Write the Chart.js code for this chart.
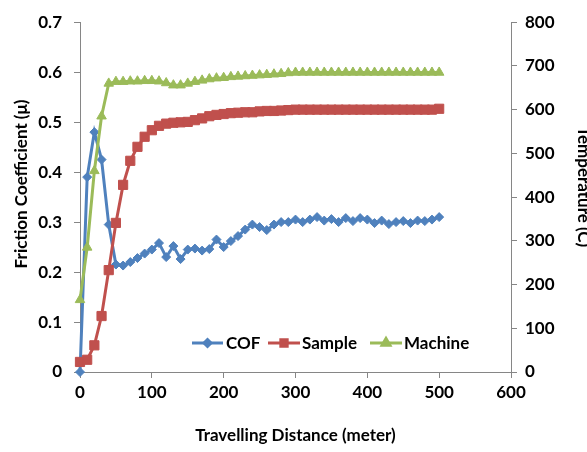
<!DOCTYPE html>
<html>
<head>
<meta charset="utf-8">
<script src="https://cdn.jsdelivr.net/npm/chart.js@4.4.1/dist/chart.umd.min.js"></script>
<style>
  html, body { margin: 0; padding: 0; background: #fff; overflow: hidden; }
  #wrap { width: 598px; height: 452px; position: relative; }
</style>
</head>
<body>
<div id="wrap"><canvas id="c" width="598" height="452"></canvas></div>
<script>
const distances = [0,10,20,30,40,50,60,70,80,90,100,110,120,130,140,150,160,170,180,190,200,
  210,220,230,240,250,260,270,280,290,300,310,320,330,340,350,360,370,380,390,400,
  410,420,430,440,450,460,470,480,490,500];
const cofValues = [0,0.39,0.48,0.425,0.295,0.215,0.213,0.22,0.228,0.237,0.245,0.258,0.23,0.252,0.226,
  0.245,0.247,0.243,0.246,0.265,0.25,0.262,0.272,0.285,0.295,0.29,0.284,0.295,0.3,0.3,0.305,
  0.3,0.305,0.31,0.303,0.306,0.3,0.308,0.302,0.308,0.305,0.298,0.303,0.296,0.3,0.302,0.298,
  0.303,0.302,0.305,0.31];
const sampleTemps = [23,28,61,128,233,341,428,483,515,538,553,563,568,570,571,572,576,580,585,588,590,
  592,593,594,594,596,597,597,598,599,600,600,600,600,600,600,600,600,600,600,600,
  600,600,600,600,600,600,600,600,600,602];
const machineTemps = [165,285,460,585,660,664,664,665,665,666,666,665,661,656,656,660,664,667,670,672,673,
  675,676,677,678,679,680,681,682,684,685,685,685,685,685,685,685,685,685,685,685,
  685,685,685,685,685,685,685,685,685,685];
const xTicks = [0,100,200,300,400,500,600];
const cofTicks = [0,0.1,0.2,0.3,0.4,0.5,0.6,0.7];
const tempTicks = [0,100,200,300,400,500,600,700,800];
const seriesNames = ['COF','Sample','Machine'];
const xTitle = 'Travelling Distance (meter)';
const yTitle = 'Friction Coefficient (\u03bc)';
const y1Title = 'Temperature (C)';

const FONT = 'Lato, "Open Sans", "DejaVu Sans", sans-serif';
const FS = 17;
const toPts = (ys) => distances.map((d, i) => ({x: d, y: ys[i]}));

const legendPlugin = {
  id: 'insideLegend',
  afterDatasetsDraw(chart) {
    const ctx = chart.ctx;
    const items = [
      {ds: 0, x0: 192, x1: 223, tx: 226, r: 3.5},
      {ds: 1, x0: 268, x1: 300, tx: 302, r: 4.5},
      {ds: 2, x0: 370, x1: 402, tx: 404, r: 4.5}
    ];
    const y = 343;
    ctx.save();
    items.forEach(it => {
      const d = chart.data.datasets[it.ds];
      ctx.strokeStyle = d.borderColor;
      ctx.lineWidth = 3;
      ctx.beginPath();
      ctx.moveTo(it.x0, y);
      ctx.lineTo(it.x1, y);
      ctx.stroke();
      ctx.fillStyle = d.pointBackgroundColor;
      ctx.strokeStyle = d.pointBorderColor;
      Chart.helpers.drawPoint(ctx, {pointStyle: d.pointStyle, radius: it.r, rotation: 0, borderWidth: 1}, (it.x0 + it.x1) / 2, y);
      ctx.fillStyle = '#000';
      ctx.font = 'bold ' + FS + 'px ' + FONT;
      ctx.textAlign = 'left';
      ctx.textBaseline = 'middle';
      ctx.fillText(d.label, it.tx, y + 1);
    });
    ctx.restore();
  }
};

const vTitlePlugin = {
  id: 'vTitles',
  afterDraw(chart) {
    const ctx = chart.ctx;
    ctx.save();
    ctx.fillStyle = '#000';
    ctx.font = 'bold ' + FS + 'px ' + FONT;
    ctx.textAlign = 'center';
    ctx.textBaseline = 'middle';
    ctx.translate(22, 184);
    ctx.rotate(-Math.PI / 2);
    ctx.fillText(yTitle, 0, 0);
    ctx.restore();
    ctx.save();
    ctx.fillStyle = '#000';
    ctx.font = 'bold ' + FS + 'px ' + FONT;
    ctx.textAlign = 'center';
    ctx.textBaseline = 'middle';
    ctx.translate(583, 187);
    ctx.rotate(Math.PI / 2);
    ctx.fillText(y1Title, 0, 0);
    ctx.restore();
  }
};

const tickFont = {family: FONT, size: FS, weight: 'bold'};
const titleFont = {family: FONT, size: FS, weight: 'bold'};
const axisGray = '#868686';

new Chart(document.getElementById('c'), {
  type: 'line',
  data: {
    datasets: [
      {label: seriesNames[0], data: toPts(cofValues), yAxisID: 'y', order: 3,
       borderColor: '#4F81BD', backgroundColor: '#4F81BD', pointBackgroundColor: '#4F81BD', pointBorderColor: '#4F81BD',
       pointStyle: 'rectRot', pointRadius: 4.5, borderWidth: 3, pointBorderWidth: 1, clip: false},
      {label: seriesNames[1], data: toPts(sampleTemps), yAxisID: 'y1', order: 2,
       borderColor: '#C0504D', backgroundColor: '#C0504D', pointBackgroundColor: '#C0504D', pointBorderColor: '#C0504D',
       pointStyle: 'rect', pointRadius: 6.5, borderWidth: 3, pointBorderWidth: 1, clip: false},
      {label: seriesNames[2], data: toPts(machineTemps), yAxisID: 'y1', order: 1,
       borderColor: '#9BBB59', backgroundColor: '#9BBB59', pointBackgroundColor: '#9BBB59', pointBorderColor: '#9BBB59',
       pointStyle: 'triangle', pointRadius: 5.5, borderWidth: 3, pointBorderWidth: 1, clip: false}
    ]
  },
  options: {
    responsive: false,
    animation: false,
    layout: {padding: {top: 16, left: 0, right: 0, bottom: 0}},
    plugins: {legend: {display: false}, tooltip: {enabled: false}},
    elements: {line: {tension: 0}},
    scales: {
      x: {
        type: 'linear', position: 'bottom', min: 0, max: 600,
        afterBuildTicks: (s) => { s.ticks = xTicks.map(v => ({value: v})); },
        afterFit: (s) => { s.height = 80; },
        grid: {display: true, drawOnChartArea: false, drawTicks: true, tickLength: 6, color: axisGray, lineWidth: 1},
        border: {display: true, color: axisGray, width: 1},
        ticks: {font: tickFont, color: '#000', padding: 4, maxRotation: 0},
        title: {display: true, text: xTitle, font: titleFont, color: '#000', padding: {top: 4, bottom: 6}}
      },
      y: {
        type: 'linear', position: 'left', min: 0, max: 0.7,
        afterBuildTicks: (s) => { s.ticks = cofTicks.map(v => ({value: v})); },
        afterFit: (s) => { s.width = 80; },
        grid: {display: true, drawOnChartArea: false, drawTicks: true, tickLength: 6, color: axisGray, lineWidth: 1},
        border: {display: true, color: axisGray, width: 1},
        ticks: {font: tickFont, color: '#000', padding: 12, callback: (v) => v === 0 ? '0' : v.toFixed(1)},
        title: {display: false}
      },
      y1: {
        type: 'linear', position: 'right', min: 0, max: 800,
        afterBuildTicks: (s) => { s.ticks = tempTicks.map(v => ({value: v})); },
        afterFit: (s) => { s.width = 87; },
        grid: {display: true, drawOnChartArea: false, drawTicks: true, tickLength: 6, color: axisGray, lineWidth: 1},
        border: {display: true, color: axisGray, width: 1},
        ticks: {font: tickFont, color: '#000', padding: 8, callback: (v) => String(v)},
        title: {display: false}
      }
    }
  },
  plugins: [legendPlugin, vTitlePlugin]
});
</script>
</body>
</html>
